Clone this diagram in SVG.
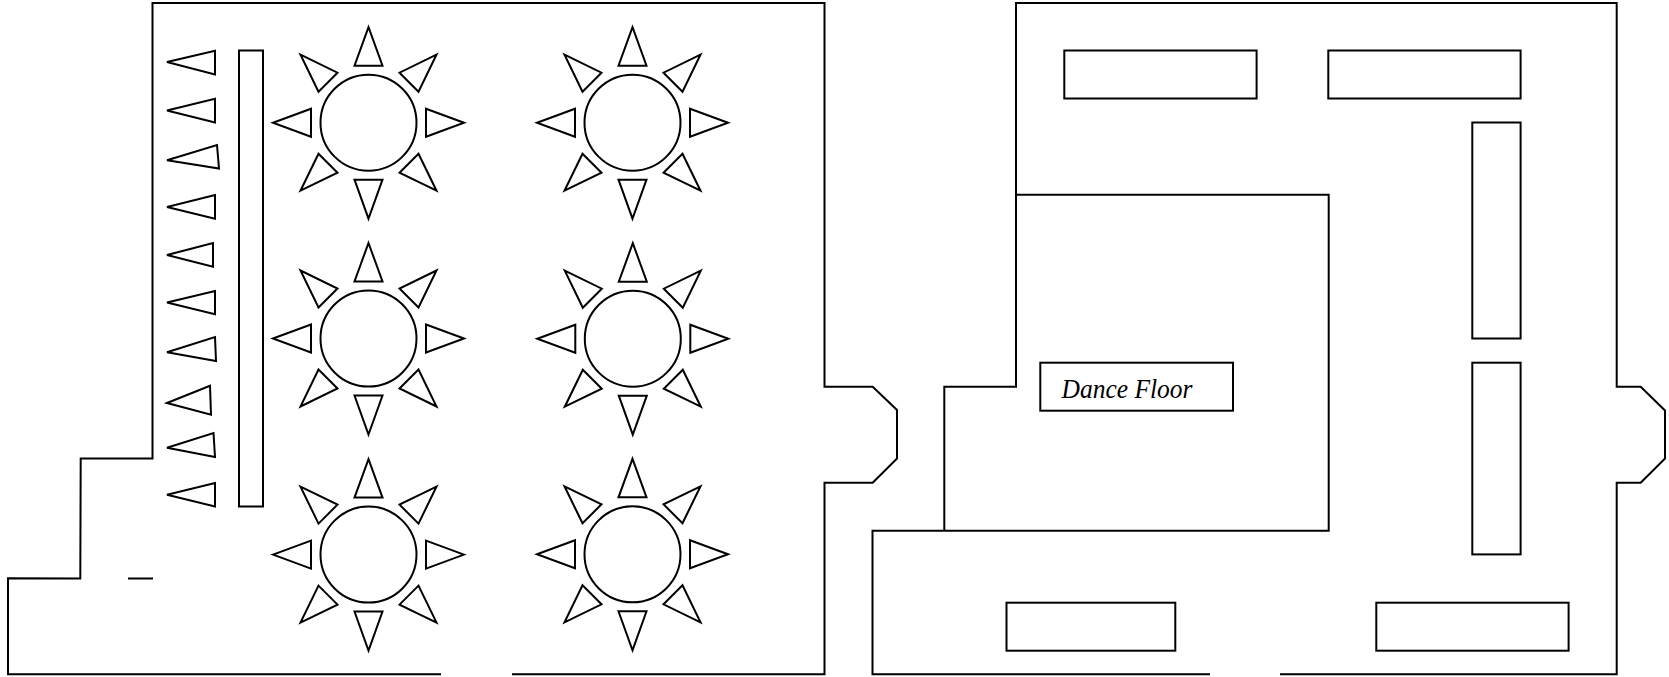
<svg xmlns="http://www.w3.org/2000/svg" width="1669" height="677" viewBox="0 0 1669 677">
<style>
.s{fill:none;stroke:#000;stroke-width:2;stroke-linejoin:miter}
.t{font-family:"Liberation Serif",serif;font-style:italic;font-size:27px;fill:#000}
</style>
<defs>
<g id="tbl" class="s">
<circle cx="0" cy="0" r="48"/>
<path d="M0-95.500L14-57H-14Z"/>
<path d="M0 96L14 57H-14Z"/>
<path d="M95.500 0L57.500-14V14Z"/>
<path d="M-95.500 0L-57.500-14V14Z"/>
<path d="M-68-68L-31-50L-50-31Z"/>
<path d="M68-68L31-50L50-31Z"/>
<path d="M-68 68L-31 50L-50 31Z"/>
<path d="M68 68L31 50L50 31Z"/>
</g>
</defs>
<rect width="1669" height="677" fill="#fff"/>
<g id="walls" class="s">
<path d="M512 674.300H824.500V482.700H872.700L897 458.500V410L872.700 386.700H824.500V3H152.500V458.500H80.700L80.300 578.500L8 578.200V674.300H441"/>
<path d="M128 578.500H153"/>
<path d="M1210 674.300H872.500V530.700H1328.700V194.700H1016"/>
<path d="M1280 674.300H1616.700V482.700H1640.700L1665 458.500V410.500L1640.700 386.700H1616.700V3H1016V386.700H944.300V530.700"/>
</g>
<g id="head-table" class="s"><rect x="239" y="50.500" width="24" height="456"/></g>
<g id="head-seats" class="s">
<path d="M167 62L215 50.700V74.500Z"/>
<path d="M167 110.500L215 98.700V122.500Z"/>
<path d="M167 160.300L217 145L219 168.500Z"/>
<path d="M167 207L215 195V218.700Z"/>
<path d="M167 255L213 243V266.700Z"/>
<path d="M167 302.500L215 291V314.300Z"/>
<path d="M167 352.300L215 337L216 361Z"/>
<path d="M167 403L210 385.700L211 414.700Z"/>
<path d="M167 447.700L213.500 433L215 457Z"/>
<path d="M167 494.700L215 483V506.500Z"/>
</g>
<g id="table-1"><use href="#tbl" x="368.500" y="122.700"/></g>
<g id="table-2"><use href="#tbl" x="368.500" y="338.500"/></g>
<g id="table-3"><use href="#tbl" x="368.500" y="554.600"/></g>
<g id="table-4"><use href="#tbl" x="632.500" y="122.700"/></g>
<g id="table-5"><use href="#tbl" x="632.800" y="338.700"/></g>
<g id="table-6"><use href="#tbl" x="632.500" y="554.300"/></g>
<g id="buffet" class="s">
<rect x="1064.300" y="50.500" width="192.300" height="48"/>
<rect x="1328.300" y="50.500" width="192.300" height="48"/>
<rect x="1472.300" y="122.500" width="48.300" height="216"/>
<rect x="1472.300" y="362.700" width="48.300" height="191.700"/>
<rect x="1006.500" y="602.700" width="168.800" height="48"/>
<rect x="1376.300" y="602.700" width="192.300" height="48"/>
</g>
<g id="dance-floor">
<rect class="s" x="1040.300" y="362.700" width="192.700" height="48"/>
<text class="t" x="1061.500" y="398" textLength="131" lengthAdjust="spacingAndGlyphs">Dance Floor</text>
</g>
</svg>
